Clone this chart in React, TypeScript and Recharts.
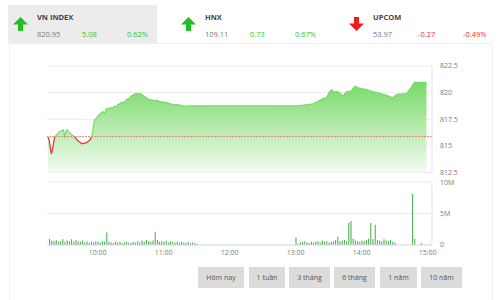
import React from "react";
import {
  ComposedChart,
  Area,
  Bar,
  XAxis,
  YAxis,
  CartesianGrid,
  ReferenceLine,
} from "recharts";

// ---------- header data ----------
const indexNames = ["VN INDEX", "HNX", "UPCOM"];
const indexValues = ["820.95", "109.11", "53.97"];
const indexChanges = ["5.08", "0.73", "-0.27"];
const indexPercents = ["0.62%", "0.67%", "-0.49%"];
const indexUp = [true, true, false];

const rangeButtons = ["Hôm nay", "1 tuần", "3 tháng", "6 tháng", "1 năm", "10 năm"];

// ---------- price series ----------
const refPrice = 815.87;
const priceTimes = [
  "09:15", "09:16", "09:18", "09:19", "09:21", "09:23", "09:25", "09:29", "09:30", "09:32",
  "09:35", "09:37", "09:39", "09:42", "09:46", "09:50", "09:53", "09:55", "09:57", "10:02",
  "10:05", "10:07", "10:08", "10:10", "10:12", "10:13", "10:15", "10:17", "10:18", "10:20",
  "10:22", "10:24", "10:27", "10:29", "10:31", "10:35", "10:37", "10:39", "10:43", "10:45",
  "10:47", "10:52", "10:54", "10:56", "11:00", "11:03", "11:06", "11:10", "11:13", "11:15",
  "11:19", "11:24", "11:30", "13:04", "13:13", "13:16", "13:20", "13:25", "13:28", "13:31",
  "13:33", "13:35", "13:37", "13:40", "13:43", "13:45", "13:47", "13:50", "13:54", "13:57",
  "14:00", "14:04", "14:07", "14:10", "14:15", "14:19", "14:23", "14:28", "14:32", "14:41",
  "14:45", "14:48", "14:59",
];
const priceValues = [
  815.85, 815.47, 814.25, 814.7, 815.85, 816.04, 816.3, 816.5, 815.95, 816.5,
  816.2, 816.0, 815.85, 815.47, 815.2, 815.3, 815.55, 815.95, 817.35, 818.0,
  818.2, 818.1, 818.5, 818.45, 818.6, 818.5, 818.7, 818.65, 818.85, 818.95,
  819.1, 819.05, 819.4, 819.45, 819.7, 819.95, 819.85, 819.9, 819.6, 819.45,
  819.35, 819.25, 819.3, 819.15, 819.1, 819.05, 818.95, 818.85, 818.9, 818.8,
  818.7, 818.75, 818.75, 818.77, 818.9, 818.95, 819.15, 819.43, 819.5, 820.09,
  820.28, 820.0, 820.1, 820.0, 819.65, 819.95, 820.09, 820.1, 820.6, 820.45,
  820.37, 820.3, 820.2, 820.1, 819.97, 819.85, 819.74, 819.5, 819.84, 819.9,
  820.47, 820.95, 820.95,
];
const priceTicks = [812.5, 815, 817.5, 820, 822.5];

// ---------- volume series (million shares) ----------
const volTimes = [
  "09:16", "09:18", "09:20", "09:22", "09:24", "09:26", "09:28", "09:30", "09:32", "09:34",
  "09:36", "09:38", "09:40", "09:42", "09:44", "09:46", "09:48", "09:50", "09:52", "09:54",
  "09:56", "09:58", "10:00", "10:02", "10:04", "10:06", "10:08", "10:10", "10:12", "10:14",
  "10:16", "10:18", "10:20", "10:22", "10:24", "10:26", "10:28", "10:30", "10:32", "10:34",
  "10:36", "10:38", "10:40", "10:42", "10:44", "10:46", "10:48", "10:50", "10:52", "10:54",
  "10:56", "10:58", "11:00", "11:02", "11:04", "11:06", "11:08", "11:10", "11:12", "11:14",
  "11:16", "11:18", "11:20", "11:22", "11:24", "11:26", "11:28", "11:30",
  "13:00", "13:02", "13:04", "13:06", "13:08", "13:10", "13:12", "13:14", "13:16", "13:18",
  "13:20", "13:22", "13:24", "13:26", "13:28", "13:30", "13:32", "13:34", "13:36", "13:38",
  "13:40", "13:42", "13:44", "13:46", "13:48", "13:50", "13:52", "13:54", "13:56", "13:58",
  "14:00", "14:02", "14:04", "14:06", "14:08", "14:10", "14:12", "14:14", "14:16", "14:18",
  "14:20", "14:22", "14:24", "14:26", "14:28", "14:30", "14:46", "14:48", "14:54",
];
const volValues = [
  1.0, 0.7, 0.6, 0.8, 0.5, 0.6, 0.9, 0.5, 0.7, 0.6,
  0.9, 0.5, 0.8, 0.6, 0.5, 0.7, 0.4, 0.6, 0.3, 0.5,
  0.4, 0.6, 0.5, 0.4, 0.6, 0.5, 2.0, 0.5, 0.4, 0.3,
  0.5, 0.4, 0.5, 0.3, 0.4, 0.5, 0.4, 0.3, 0.5, 0.4,
  0.6, 0.4, 0.7, 0.5, 0.8, 0.6, 0.5, 0.7, 2.1, 0.8,
  0.5, 0.6, 0.5, 0.7, 0.4, 0.6, 0.5, 0.4, 0.5, 0.3,
  0.5, 0.4, 0.3, 0.5, 0.3, 0.4, 0.3, 0.2,
  1.2, 0.2, 0.4, 0.5, 0.6, 0.4, 0.3, 0.5, 0.4, 0.5,
  0.6, 0.4, 0.7, 0.5, 0.6, 0.4, 0.5, 0.6, 0.8, 1.3,
  0.6, 0.7, 0.8, 0.6, 3.5, 3.8, 1.0, 0.7, 0.6, 0.5,
  0.7, 0.6, 0.8, 1.0, 3.5, 0.9, 3.2, 0.8, 0.7, 0.6,
  0.9, 0.7, 0.6, 0.8, 0.5, 0.4, 8.1, 1.0, 0.3,
];
const volTicks = [0, 5, 10];
const timeTicks = ["10:00", "11:00", "12:00", "13:00", "14:00", "15:00"];
const timeDomain = ["09:14", "15:04"];

const toMin = (s: string) => {
  const [h, m] = s.split(":").map(Number);
  return h * 60 + m;
};
const fmtMin = (v: number) => {
  const h = Math.floor(v / 60);
  const m = v % 60;
  return `${h < 10 ? "0" : ""}${h}:${m < 10 ? "0" : ""}${m}`;
};

const priceData = priceTimes.map((t, i) => ({ t: toMin(t), v: priceValues[i] }));
const volData = volTimes.map((t, i) => ({ t: toMin(t), v: volValues[i] }));
const xDomain = [toMin(timeDomain[0]), toMin(timeDomain[1])];
const xTicks = timeTicks.map(toMin);

const pMax = Math.max(...priceValues);
const pMin = Math.min(...priceValues);
const splitOff = (pMax - refPrice) / (pMax - pMin);

const FONT = "'Open Sans', 'DejaVu Sans', sans-serif";
const tickStyle = { fontSize: 7, fill: "#7a7a7a", fontFamily: FONT };

const Arrow = ({ up }: { up: boolean }) => (
  <svg width="17" height="16" viewBox="0 0 17 16">
    {up ? (
      <path d="M8.5 1 L16 8.5 L11 8.5 L11 15 L6 15 L6 8.5 L1 8.5 Z" fill="#1fc01f" />
    ) : (
      <path d="M8.5 15 L16 7.5 L11 7.5 L11 1 L6 1 L6 7.5 L1 7.5 Z" fill="#ee1c1c" />
    )}
  </svg>
);

const headerX = [8, 176, 344];

export default function App() {
  return (
    <div
      style={{
        position: "absolute",
        left: 0,
        top: 0,
        width: 501,
        height: 300,
        background: "#fff",
        overflow: "hidden",
        fontFamily: FONT,
      }}
    >
      {/* header */}
      <div
        style={{
          position: "absolute",
          left: 8,
          top: 5,
          width: 149,
          height: 38,
          background: "#ececec",
        }}
      />
      {indexNames.map((n, i) => {
        const x0 = headerX[i];
        const col = indexUp[i] ? "#2cc52c" : "#f03030";
        return (
          <React.Fragment key={n}>
            <div style={{ position: "absolute", left: x0 + 4, top: 15 }}>
              <Arrow up={indexUp[i]} />
            </div>
            <div
              style={{
                position: "absolute",
                left: x0 + 29,
                top: 12,
                fontSize: 7.5,
                fontWeight: 700,
                color: "#444",
              }}
            >
              {n}
            </div>
            <div style={{ position: "absolute", left: x0 + 29, top: 29, fontSize: 7.5, color: "#777" }}>
              {indexValues[i]}
            </div>
            <div style={{ position: "absolute", left: x0 + 74, top: 29, fontSize: 7.5, color: col }}>
              {indexChanges[i]}
            </div>
            <div style={{ position: "absolute", left: x0 + 119, top: 29, fontSize: 7.5, color: col }}>
              {indexPercents[i]}
            </div>
          </React.Fragment>
        );
      })}

      {/* panel */}
      <div
        style={{
          position: "absolute",
          left: 9,
          top: 43,
          width: 484,
          height: 270,
          border: "1px solid #efefef",
          boxSizing: "border-box",
        }}
      />

      {/* price chart */}
      <div style={{ position: "absolute", left: 0, top: 0 }}>
        <ComposedChart
          width={501}
          height={178}
          data={priceData}
          margin={{ top: 66, right: 39, bottom: 5.5, left: 47 }}
        >
          <defs>
            <linearGradient id="pFill" x1="0" y1="0" x2="0" y2="1">
              <stop offset="0%" stopColor="#78da68" stopOpacity={1} />
              <stop offset="100%" stopColor="#f4fcf2" stopOpacity={1} />
            </linearGradient>
            <linearGradient id="pStroke" x1="0" y1="0" x2="0" y2="1">
              <stop offset={splitOff} stopColor="#78da68" />
              <stop offset={splitOff} stopColor="#e23b3b" />
            </linearGradient>
          </defs>
          <CartesianGrid vertical={false} stroke="#ececec" />
          <XAxis hide type="number" dataKey="t" domain={xDomain} />
          <YAxis
            orientation="right"
            width={30}
            domain={[priceTicks[0], priceTicks[priceTicks.length - 1]]}
            ticks={priceTicks}
            tickLine={false}
            axisLine={{ stroke: "#dde5ef" }}
            tick={tickStyle}
            interval={0}
          />
          <Area
            type="linear"
            dataKey="v"
            fill="url(#pFill)"
            fillOpacity={1}
            stroke="url(#pStroke)"
            strokeWidth={1.3}
            isAnimationActive={false}
            dot={false}
            activeDot={false}
          />
          <ReferenceLine y={refPrice} stroke="#e58080" strokeDasharray="2 1" strokeWidth={1} />
        </ComposedChart>
      </div>

      {/* volume chart */}
      <div style={{ position: "absolute", left: 0, top: 178 }}>
        <ComposedChart
          width={501}
          height={82}
          data={volData}
          margin={{ top: 4, right: 39, bottom: 0, left: 47 }}
        >
          <CartesianGrid vertical={false} stroke="#ececec" />
          <XAxis
            type="number"
            dataKey="t"
            domain={xDomain}
            ticks={xTicks}
            tickFormatter={fmtMin}
            tickLine={false}
            tickSize={3}
            tickMargin={2}
            height={15}
            axisLine={{ stroke: "#d6e0ec" }}
            tick={tickStyle}
            interval={0}
          />
          <YAxis
            orientation="right"
            width={30}
            domain={[0, 10]}
            ticks={volTicks}
            tickFormatter={(v: number) => (v === 0 ? "0" : `${v}M`)}
            tickLine={false}
            axisLine={{ stroke: "#dde5ef" }}
            tick={tickStyle}
            interval={0}
          />
          <Bar dataKey="v" fill="#44a844" barSize={1} isAnimationActive={false} />
        </ComposedChart>
      </div>

      {/* range buttons */}
      {rangeButtons.map((b, i) => {
        const lefts = [198, 249, 289, 334, 380, 421];
        const widths = [46, 36, 41, 41, 37, 41];
        return (
          <div
            key={b}
            style={{
              position: "absolute",
              left: lefts[i],
              top: 267,
              width: widths[i],
              height: 21,
              background: "#dcdcdc",
              color: "#555",
              fontSize: 7,
              lineHeight: "21px",
              textAlign: "center",
            }}
          >
            {b}
          </div>
        );
      })}
    </div>
  );
}
